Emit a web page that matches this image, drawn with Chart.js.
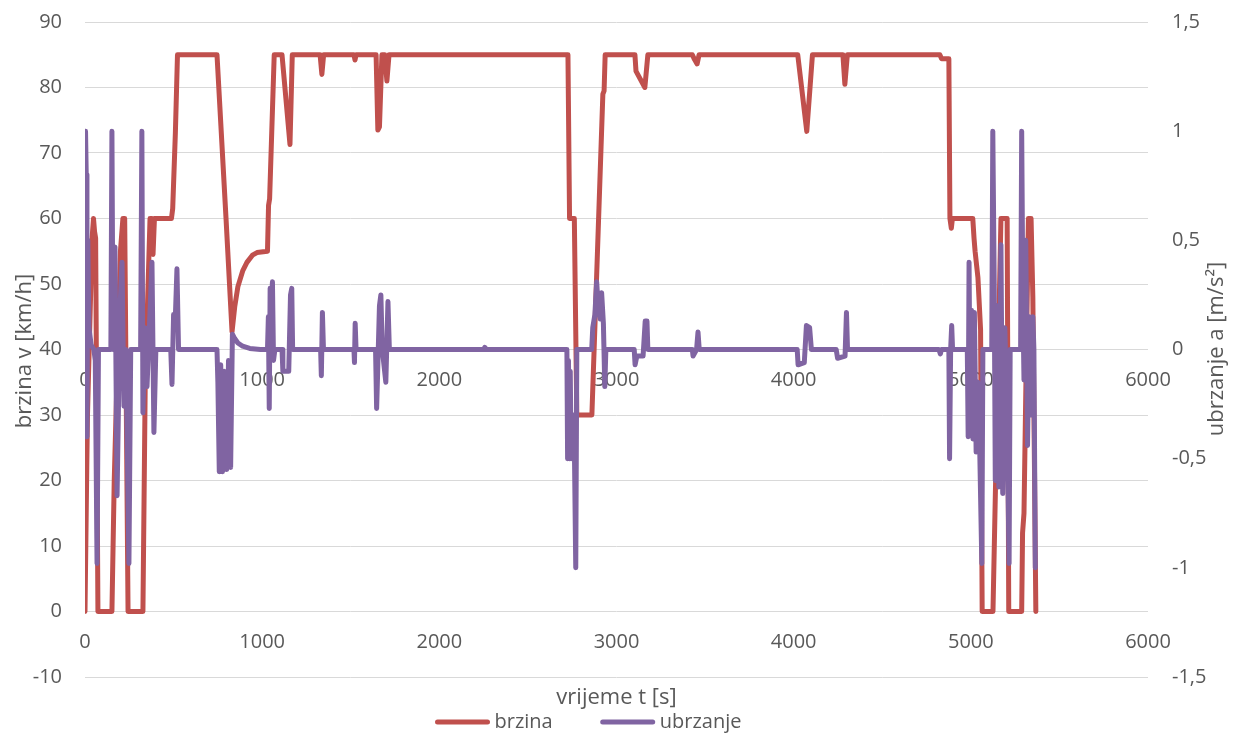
<!DOCTYPE html>
<html>
<head>
<meta charset="utf-8">
<script src="https://cdn.jsdelivr.net/npm/chart.js@4.4.0/dist/chart.umd.min.js"></script>
<style>
  html, body { margin: 0; padding: 0; background: #fff; }
</style>
</head>
<body>
<canvas id="chart" width="1237" height="736"></canvas>
<script>
// brzina v [km/h] po vremenu t [s]
const vTime = [0, 10, 14, 40, 48, 54, 60, 73, 152, 165, 200, 214, 224, 243, 327, 340, 367, 378, 384, 392, 488, 495, 510, 522,
  745, 796, 830, 845, 863, 890, 914, 945, 971, 1030, 1036, 1042, 1068, 1112, 1157, 1170, 1327, 1337, 1347, 1518, 1524, 1530,
  1643, 1653, 1662, 1676, 1692, 1704, 1716, 2726, 2735, 2762, 2776, 2861, 2923, 2930, 2936, 3104, 3110, 3160, 3177,
  3428, 3440, 3455, 3466, 4023, 4074, 4106, 4278, 4289, 4303, 4825, 4835, 4876, 4882, 4890, 4896, 5011, 5018, 5024,
  5040, 5055, 5064, 5125, 5170, 5205, 5214, 5287, 5292, 5300, 5325, 5340, 5350, 5367];
const vSpeed = [0, 22, 30, 57, 60, 58, 57, 0, 0, 20, 55, 60, 60, 0, 0, 35, 60, 60, 54.5, 60, 60, 61.5, 73, 85,
  85, 60, 42.7, 46.5, 49.6, 52, 53.3, 54.4, 54.8, 55, 62, 63, 85, 85, 71.3, 85, 85, 82, 85, 85, 84.2, 85,
  85, 73.5, 74, 85, 85, 81, 85, 85, 60, 60, 30, 30, 79, 79.5, 85, 85, 82.5, 80, 85,
  85, 84.3, 83.6, 85, 85, 73.3, 85, 85, 80.5, 85, 85, 84.4, 84.4, 60, 58.5, 60, 60, 57, 55,
  51, 43, 0, 0, 60, 60, 0, 0, 12, 15, 60, 60, 48, 0];

// ubrzanje a [m/s2] po vremenu t [s]
const aTime = [0, 3, 7, 11, 16, 22, 35, 50, 58, 68, 76, 146, 152, 158, 169, 181, 198, 209, 220, 231, 248, 258, 314, 321, 327,
  339, 350, 378, 389, 400, 484, 491, 500, 508, 519, 528, 745, 750, 758, 766, 776, 786, 800, 810, 822, 832, 845, 863, 890,
  930, 990, 1030, 1035, 1040, 1045, 1050, 1058, 1064, 1072, 1112, 1117, 1150, 1160, 1167, 1172, 1330, 1334, 1340, 1346,
  1518, 1521, 1525, 1530, 1640, 1646, 1652, 1662, 1670, 1678, 1698, 1710, 1718, 2250, 2257, 2264, 2720, 2724, 2729, 2734,
  2739, 2744, 2752, 2758, 2763, 2770, 2776, 2860, 2866, 2878, 2888, 2898, 2908, 2916, 2926, 2934, 2940, 3100, 3105, 3115,
  3150, 3162, 3172, 3177, 3428, 3432, 3452, 3460, 3467, 4020, 4025, 4060, 4072, 4090, 4100, 4240, 4248, 4290, 4298, 4304,
  4820, 4828, 4834, 4876, 4880, 4886, 4892, 4897, 4980, 4985, 4990, 4996, 5004, 5012, 5020, 5030, 5040, 5050, 5062, 5068,
  5118, 5124, 5132, 5138, 5148, 5158, 5170, 5180, 5192, 5204, 5216, 5222, 5281, 5287, 5294, 5300, 5310, 5320, 5330, 5340,
  5350, 5356, 5364];
const aAccel = [0, 1.0, 0.8, -0.4, 0.5, 0.1, 0.02, 0, -0.05, -0.98, 0, 0, 1.0, 0, 0.47, -0.67, 0.2, 0.4, -0.26, 0, -0.98, 0, 0, 1.0, -0.29,
  0.1, -0.17, 0.4, -0.38, 0, 0, -0.16, 0.16, 0.1, 0.37, 0, 0, -0.15, -0.56, -0.07, -0.56, -0.1, -0.55, -0.05, -0.54, 0.07, 0.05, 0.03, 0.015,
  0.005, 0, 0, 0.15, -0.27, 0.28, 0.2, 0.31, -0.05, 0, 0, -0.1, -0.1, 0.25, 0.28, 0, 0, -0.12, 0.17, 0,
  0, -0.06, 0.12, 0, 0, -0.27, -0.1, 0.2, 0.25, 0, -0.15, 0.22, 0, 0, 0.01, 0, 0, -0.5, -0.05, -0.5,
  -0.1, -0.5, -0.48, -0.3, -0.5, -1.0, 0, 0, 0.1, 0.16, 0.31, 0.18, 0.14, 0.26, 0.12, -0.17, 0, 0, -0.07, -0.03,
  -0.03, 0.13, 0.13, 0, 0, -0.03, 0, 0.08, 0, 0, -0.07, -0.06, 0.11, 0.1, 0, 0, -0.04, -0.03, 0.17, 0,
  0, -0.02, 0, 0, -0.5, 0, 0.11, 0, 0, -0.4, 0.4, -0.3, 0.18, -0.41, 0.17, -0.47, -0.15, -0.45, -0.98, 0,
  0, 1.0, 0.3, -0.6, 0.2, -0.63, 0.48, -0.66, 0.1, -0.3, -0.98, 0, 0, 1.0, 0.2, -0.14, 0.5, -0.44, 0.15, -0.3,
  0.15, 0, -1.0];

const seriesNames = ['brzina', 'ubrzanje'];
const seriesColors = ['#C0504D', '#8064A2'];
const xTitle = 'vrijeme t [s]';
const yTitle = 'brzina v [km/h]';
const y2Title = 'ubrzanje a [m/s²]';

const fontFamily = '"Open Sans", "Noto Sans", sans-serif';
const textColor = '#595959';

function toPoints(xs, ys) {
    return xs.map((t, i) => ({ x: t, y: ys[i] }));
}

// naslovi osi i legenda
const extraText = {
    id: 'extraText',
    afterDraw(chart) {
        const ctx = chart.ctx;
        const area = chart.chartArea;
        ctx.save();
        ctx.fillStyle = textColor;
        ctx.font = '22px ' + fontFamily;
        ctx.textAlign = 'center';
        ctx.textBaseline = 'middle';
        ctx.fillText(xTitle, (area.left + area.right) / 2, 698);

        ctx.save();
        ctx.translate(25, 351);
        ctx.rotate(-Math.PI / 2);
        ctx.fillText(yTitle, 0, 0);
        ctx.restore();

        ctx.save();
        ctx.translate(1217, 349);
        ctx.rotate(-Math.PI / 2);
        ctx.fillText(y2Title, 0, 0);
        ctx.restore();

        // legenda
        ctx.font = '20px ' + fontFamily;
        ctx.textAlign = 'left';
        let x = 437.5;
        const y = 722;
        seriesNames.forEach((name, i) => {
            ctx.strokeStyle = seriesColors[i];
            ctx.lineWidth = 5;
            ctx.lineCap = 'round';
            ctx.beginPath();
            ctx.moveTo(x, y);
            ctx.lineTo(x + 50, y);
            ctx.stroke();
            ctx.fillText(name, x + 57, y);
            x += 57 + ctx.measureText(name).width + 50;
        });
        ctx.restore();
    }
};

const tickFont = { family: fontFamily, size: 20 };

function xAxis(crossId) {
    const pos = {};
    pos[crossId] = 0;
    return {
        type: 'linear',
        position: pos,
        min: 0,
        max: 6000,
        ticks: {
            stepSize: 1000, padding: 19, color: textColor, font: tickFont, maxRotation: 0, autoSkip: false,
            callback: v => String(v)
        },
        grid: { display: false, drawTicks: false },
        border: { display: false },
        afterFit(s) { s.height = 0; }
    };
}

// fiksna sirina osi, bez dodatnog razmaka gore/dolje
function fixY(width) {
    return function (s) {
        s.width = width;
        s.paddingTop = 0;
        s.paddingBottom = 0;
    };
}

const config = {
    type: 'line',
    data: {
        datasets: [{
            label: seriesNames[0],
            data: toPoints(vTime, vSpeed),
            borderColor: seriesColors[0],
            backgroundColor: seriesColors[0],
            yAxisID: 'y',
            xAxisID: 'x',
            order: 1
        }, {
            label: seriesNames[1],
            data: toPoints(aTime, aAccel),
            borderColor: seriesColors[1],
            backgroundColor: seriesColors[1],
            yAxisID: 'y2',
            xAxisID: 'x',
            order: 0
        }]
    },
    options: {
        responsive: false,
        animation: false,
        devicePixelRatio: 1,
        layout: { padding: { top: 22, bottom: 59, left: 0, right: 0 } },
        elements: {
            line: { borderWidth: 5, tension: 0, fill: false, borderJoinStyle: 'round', borderCapStyle: 'round' },
            point: { radius: 0, hoverRadius: 0 }
        },
        plugins: {
            legend: { display: false },
            tooltip: { enabled: false }
        },
        scales: {
            x: xAxis('y'),
            x2: xAxis('y2'),
            y: {
                position: 'left',
                min: -10,
                max: 90,
                ticks: { stepSize: 10, padding: 23, color: textColor, font: tickFont },
                grid: { color: '#D9D9D9', lineWidth: 1, drawTicks: false },
                border: { display: false },
                afterFit: fixY(85)
            },
            y2: {
                position: 'right',
                min: -1.5,
                max: 1.5,
                ticks: {
                    stepSize: 0.5, padding: 24, color: textColor, font: tickFont,
                    callback: v => String(Math.round(v * 10) / 10).replace('.', ',')
                },
                grid: { display: false, drawTicks: false },
                border: { display: false },
                afterFit: fixY(89)
            }
        }
    },
    plugins: [extraText]
};

let ctx = document.getElementById('chart').getContext('2d');
var myChart = new Chart(ctx, config);
</script>
</body>
</html>
